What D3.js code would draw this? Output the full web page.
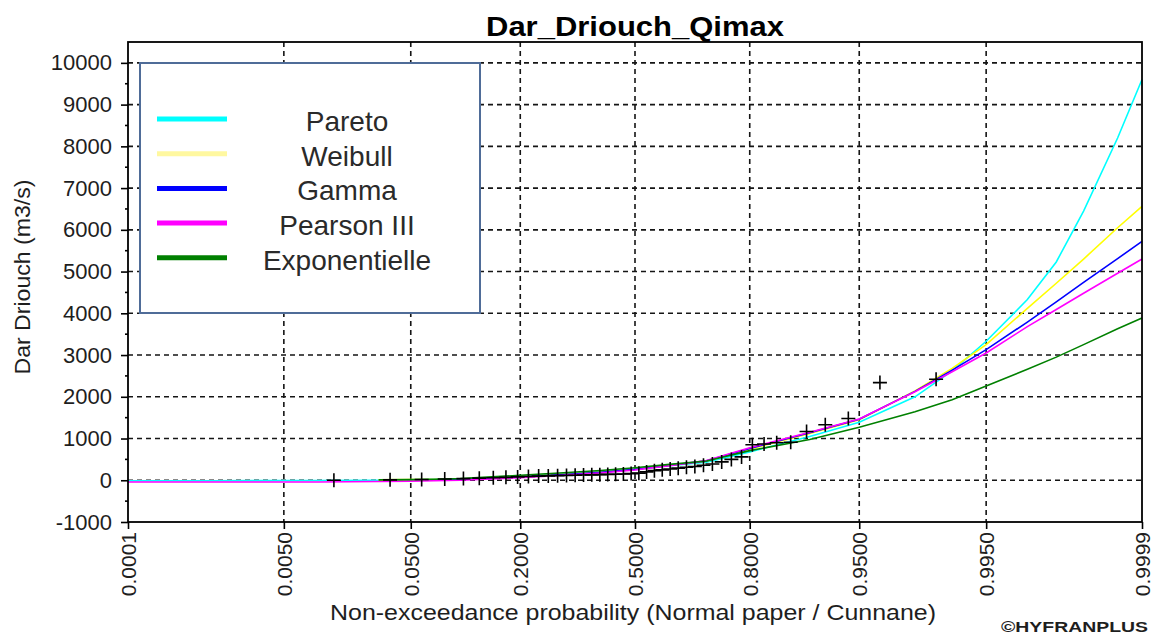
<!DOCTYPE html>
<html>
<head>
<meta charset="utf-8">
<script src="https://cdn.jsdelivr.net/npm/d3@7"></script>
<style>
  body { margin: 0; background: #fff; }
  text { font-family: "Liberation Sans", Arial, sans-serif; fill: #1e1e1e; }
</style>
</head>
<body>
<div id="chart"></div>
<script>
// probabilities at which the fitted curves are drawn
var probs = [0.0001, 0.001, 0.01, 0.03, 0.05, 0.07, 0.1, 0.2, 0.3, 0.4, 0.5, 0.6, 0.7, 0.8, 0.9, 0.95, 0.98, 0.99, 0.995, 0.998, 0.999, 0.9995, 0.9998, 0.9999];

// fitted quantiles (m3/s), null where the curve is not drawn
var pareto  = [-10, -10, -5, 0, 10, 20, 30, 90, 150, 200, 265, 350, 430, 680, 1050, 1390, 2000, 2620, 3330, 4330, 5230, 6450, 8200, 9600];
var weibull = [null, null, null, 10, 15, 20, 30, 90, 145, 195, 265, 355, 455, 745, 1120, 1450, 2140, 2680, 3250, 4120, 4720, 5300, 6050, 6560];
var gamma   = [null, null, null, null, null, 10, 20, 80, 135, 190, 260, 355, 465, 760, 1140, 1460, 2130, 2640, 3130, 3790, 4275, 4740, 5310, 5725];
var pearson = [-40, -40, -40, -30, -20, -10, 0, 60, 120, 175, 245, 350, 475, 780, 1150, 1470, 2120, 2600, 3050, 3680, 4090, 4480, 4960, 5300];
var expo    = [null, null, null, 10, 15, 25, 40, 120, 180, 235, 300, 380, 460, 710, 975, 1270, 1640, 1930, 2256, 2660, 2950, 3250, 3630, 3890];

var seriesNames  = ["Pareto", "Weibull", "Gamma", "Pearson III", "Exponentielle"];
var seriesColors = ["#00ffff", "#ffff00", "#0000ff", "#ff00ff", "#008000"];
var seriesValues = [pareto, weibull, gamma, pearson, expo];

// observed sample (plotting positions and flows)
var obsProb = [0.0136, 0.0362, 0.0588, 0.0814, 0.1041, 0.1267, 0.1493, 0.1719, 0.1946, 0.2172, 0.2398, 0.2624, 0.2851, 0.3077, 0.3303, 0.3529, 0.3756, 0.3982, 0.4208, 0.4434, 0.4661, 0.4887,
               0.5113, 0.5339, 0.5566, 0.5792, 0.6018, 0.6244, 0.6471, 0.6697, 0.6923, 0.7149, 0.7376, 0.7602, 0.7828, 0.8054, 0.8281, 0.8507, 0.8733, 0.8959, 0.9186, 0.9412, 0.9638, 0.9864];
var obsQ = [0, 10, 20, 30, 40, 50, 60, 70, 80, 90, 100, 105, 110, 115, 120, 125, 130, 135, 140, 145, 150, 160,
            170, 200, 230, 250, 270, 290, 310, 330, 360, 390, 440, 500, 560, 850, 870, 900, 910, 1170, 1330, 1480, 2340, 2420];

var xTicks = [0.0001, 0.005, 0.05, 0.2, 0.5, 0.8, 0.95, 0.995, 0.9999];
var xTickLabels = ["0.0001", "0.0050", "0.0500", "0.2000", "0.5000", "0.8000", "0.9500", "0.9950", "0.9999"];
var yTicks = [-1000, 0, 1000, 2000, 3000, 4000, 5000, 6000, 7000, 8000, 9000, 10000];

// inverse normal cdf (Acklam) for the normal probability paper
function probit(p) {
    var a = [-39.69683028665376, 220.9460984245205, -275.9285104469687, 138.3577518672690, -30.66479806614716, 2.506628277459239];
    var b = [-54.47609879822406, 161.5858368580409, -155.6989798598866, 66.80131188771972, -13.28068155288572];
    var c = [-0.007784894002430293, -0.3223964580411365, -2.400758277161838, -2.549732539343734, 4.374664141464968, 2.938163982698783];
    var d = [0.007784695709041462, 0.3224671290700398, 2.445134137142996, 3.754408661907416];
    var q, r;
    if (p < 0.02425) {
        q = Math.sqrt(-2 * Math.log(p));
        return (((((c[0]*q+c[1])*q+c[2])*q+c[3])*q+c[4])*q+c[5]) / ((((d[0]*q+d[1])*q+d[2])*q+d[3])*q+1);
    }
    if (p > 1 - 0.02425) {
        q = Math.sqrt(-2 * Math.log(1 - p));
        return -(((((c[0]*q+c[1])*q+c[2])*q+c[3])*q+c[4])*q+c[5]) / ((((d[0]*q+d[1])*q+d[2])*q+d[3])*q+1);
    }
    q = p - 0.5; r = q * q;
    return (((((a[0]*r+a[1])*r+a[2])*r+a[3])*r+a[4])*r+a[5])*q / (((((b[0]*r+b[1])*r+b[2])*r+b[3])*r+b[4])*r+1);
}

const width = 1153, height = 634;
const plot = {left: 128, right: 1142, top: 42, bottom: 522};

var svg = d3.select("#chart").append("svg")
    .attr("width", width)
    .attr("height", height);

var defs = svg.append("defs");
defs.append("filter").attr("id", "blur")
    .attr("x", "-20%").attr("y", "-200%").attr("width", "140%").attr("height", "500%")
    .append("feGaussianBlur").attr("stdDeviation", 1.6);

//creating X scale (normal quantile of the probability)
var zScale = d3.scaleLinear()
    .domain([probit(0.0001), probit(0.9999)])
    .range([plot.left, plot.right]);
var x = p => zScale(probit(p));

//creating Y scale
var yScale = d3.scaleLinear()
    .domain([-1000, 10500])
    .range([plot.bottom, plot.top]);

// dashed grid
var grid = svg.append("g")
    .attr("stroke", "#151515")
    .attr("stroke-width", 1.6)
    .attr("stroke-dasharray", "5,4");
grid.selectAll(".hgrid")
    .data(yTicks.filter(d => d > -1000))
    .join("line")
    .attr("x1", plot.left).attr("x2", plot.right)
    .attr("y1", d => yScale(d)).attr("y2", d => yScale(d));
grid.selectAll(".vgrid")
    .data(xTicks.slice(1, -1))
    .join("line")
    .attr("x1", d => x(d)).attr("x2", d => x(d))
    .attr("y1", plot.top).attr("y2", plot.bottom);

// legend box
var legend = svg.append("g");
legend.append("rect")
    .attr("x", 140).attr("y", 63)
    .attr("width", 340).attr("height", 250)
    .attr("fill", "#fff")
    .attr("stroke", "#4f6c98")
    .attr("stroke-width", 2);
seriesNames.forEach(function (name, i) {
    var ly = 119 + i * 34.7;
    legend.append("line")
        .attr("x1", 167).attr("x2", 236)
        .attr("y1", ly + 9).attr("y2", ly + 9)
        .attr("stroke", "#9a9a9a")
        .attr("stroke-width", 5)
        .attr("filter", "url(#blur)");
    legend.append("line")
        .attr("x1", 157).attr("x2", 227)
        .attr("y1", ly).attr("y2", ly)
        .attr("stroke", i == 1 ? "#fff8a0" : seriesColors[i])
        .attr("stroke-width", 5);
    legend.append("text")
        .attr("x", 347)
        .attr("y", ly + 12)
        .attr("text-anchor", "middle")
        .style("font-size", "28px")
        .style("fill", "#2a2a2a")
        .text(name);
});

// fitted curves
var line = d3.line()
    .defined(d => d[1] != null)
    .x(d => x(d[0]))
    .y(d => yScale(d[1]));
seriesValues.forEach(function (vals, i) {
    svg.append("path")
        .datum(probs.map((p, j) => [p, vals[j]]))
        .attr("fill", "none")
        .attr("stroke", seriesColors[i])
        .attr("stroke-width", 1.6)
        .attr("d", line);
});

// observations as crosses
svg.selectAll(".obs")
    .data(obsProb.map((p, i) => [p, obsQ[i]]))
    .join("path")
    .attr("class", "obs")
    .attr("transform", d => `translate(${x(d[0])},${yScale(d[1])})`)
    .attr("d", "M-7,0H7M0,-7V7")
    .attr("stroke", "#000")
    .attr("stroke-width", 1.6)
    .attr("fill", "none");

//appending the Y axis
var yAxis = svg.append("g")
    .attr("transform", `translate(${plot.left},0)`)
    .call(d3.axisLeft(yScale).tickValues(yTicks).tickSize(7).tickPadding(9).tickFormat(d => String(d)));
yAxis.select(".domain").remove();
yAxis.selectAll("line").attr("stroke", "#000").attr("stroke-width", 1.6);
yAxis.selectAll("text").style("font-size", "22px").attr("fill", "#1e1e1e");
// minor ticks
svg.append("g").selectAll("line")
    .data(d3.range(-500, 10500, 1000))
    .join("line")
    .attr("x1", plot.left - 3).attr("x2", plot.left)
    .attr("y1", d => yScale(d)).attr("y2", d => yScale(d))
    .attr("stroke", "#000").attr("stroke-width", 1.6);

//appending the x axis
var xAxis = svg.append("g")
    .attr("transform", `translate(0,${plot.bottom})`)
    .call(d3.axisBottom(zScale).tickValues(xTicks.map(probit)).tickSize(7).tickFormat((d, i) => xTickLabels[i]));
xAxis.select(".domain").remove();
xAxis.selectAll("line").attr("stroke", "#000").attr("stroke-width", 1.6);
xAxis.selectAll("text")
    .attr("transform", "rotate(-90)")
    .attr("text-anchor", "end")
    .attr("x", -10)
    .attr("y", 0)
    .attr("dy", "0.35em")
    .style("font-size", "21px")
    .attr("fill", "#1e1e1e");

// plot frame
svg.append("rect")
    .attr("x", plot.left).attr("y", plot.top)
    .attr("width", plot.right - plot.left)
    .attr("height", plot.bottom - plot.top)
    .attr("fill", "none")
    .attr("stroke", "#000")
    .attr("stroke-width", 1.8);

// title
svg.append("text")
    .attr("x", 635).attr("y", 36)
    .attr("text-anchor", "middle")
    .style("font-size", "27px")
    .style("font-weight", "bold")
    .style("fill", "#000")
    .attr("textLength", 298)
    .attr("lengthAdjust", "spacingAndGlyphs")
    .text("Dar_Driouch_Qimax");

// axis labels
svg.append("text")
    .attr("x", 633).attr("y", 620)
    .attr("text-anchor", "middle")
    .style("font-size", "22px")
    .attr("textLength", 606)
    .attr("lengthAdjust", "spacingAndGlyphs")
    .text("Non-exceedance probability (Normal paper / Cunnane)");

svg.append("text")
    .attr("transform", "translate(30,277) rotate(-90)")
    .attr("text-anchor", "middle")
    .style("font-size", "22px")
    .attr("textLength", 195)
    .attr("lengthAdjust", "spacingAndGlyphs")
    .text("Dar Driouch (m3/s)");

svg.append("text")
    .attr("x", 1001).attr("y", 632)
    .style("font-size", "14px")
    .style("font-weight", "bold")
    .attr("textLength", 147)
    .attr("lengthAdjust", "spacingAndGlyphs")
    .text("©HYFRANPLUS");
</script>
</body>
</html>
